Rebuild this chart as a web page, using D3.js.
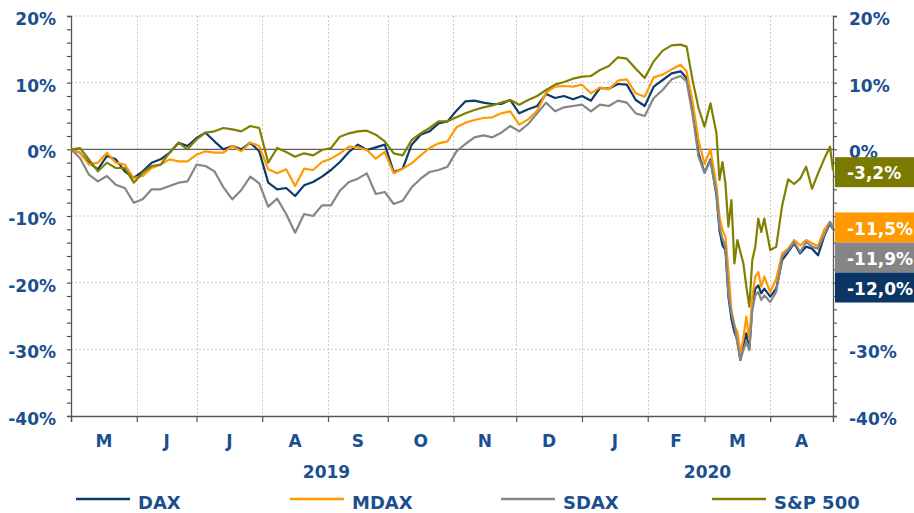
<!DOCTYPE html>
<html><head><meta charset="utf-8">
<script src="https://cdn.jsdelivr.net/npm/d3@7"></script>
<style>
html,body{margin:0;padding:0;background:#fff;}
svg{display:block;font-family:"DejaVu Sans",Verdana,sans-serif;font-weight:bold;}
</style></head>
<body><svg id="chart" width="914" height="513"></svg>
<script>
// trading-day index of each observation (0 = start of May 2019)
const days = [0,3,6,9,12,15,18,21,24,27,30,33,36,39,42,45,48,51,54,57,60,63,66,
69,72,75,78,81,84,87,90,93,96,99,102,105,108,111,114,117,120,123,126,129,
132,135,138,141,144,147,150,153,156,159,162,165,168,171,174,177,180,183,186,189,192,
195,198,201,204,206,208,210,212,214,
216,217,218,219,220,221,222,223,224,225,226,227,228,229,230,231,232,
234,236,238,240,242,244,246,248,250,252,254,255];

const dax = [0,-0.5,-2.0,-3.0,-1.0,-1.5,-3.3,-4.3,-3.3,-2.0,-1.5,-0.5,1.0,0.5,1.7,2.5,1.2,0,0.5,0,1.0,-0.3,-5.0,
-6.0,-5.8,-7.0,-5.4,-4.9,-4.1,-3.1,-1.9,-0.4,0.7,-0.1,0.3,0.7,-3.4,-2.9,0.7,2.2,2.7,3.9,4.2,5.8,
7.2,7.3,7.0,6.8,6.8,7.4,5.4,6.0,6.5,8.3,7.7,8.0,7.5,8.0,7.3,9.2,9.1,9.8,9.7,7.4,6.5,
9.4,10.4,11.4,11.7,10.7,6.2,-0.6,-3.5,-1.5,
-6.9,-12.1,-14.4,-15.1,-22.1,-25.4,-27.4,-28.6,-31.6,-29.4,-27.6,-29.9,-23.4,-20.9,-20.4,-21.6,-20.9,
-22.1,-20.9,-16.6,-15.4,-14.1,-15.6,-14.6,-14.9,-15.9,-13.1,-11.1,-12.0];

const mdax = [0,-0.5,-2.3,-2.0,-0.5,-2.0,-2.3,-4.3,-4.0,-2.8,-2.3,-1.5,-1.8,-1.8,-0.8,-0.3,-0.5,-0.5,0.5,-0.3,1.0,0.5,-3.0,
-3.6,-3.0,-5.5,-2.9,-3.1,-1.9,-1.4,-0.6,0.4,0.3,-0.1,-1.4,-0.4,-3.6,-2.9,-2.1,-0.9,0.2,0.9,1.2,3.3,
4.0,4.4,4.7,4.8,5.4,5.7,3.7,4.5,5.8,8.5,9.4,9.5,9.4,9.7,8.4,9.3,9.0,10.3,10.5,8.4,7.9,
10.8,11.2,12.0,12.7,11.7,7.2,1.4,-2.2,0,
-5.4,-10.1,-12.1,-13.1,-18.1,-24.1,-26.4,-27.4,-30.6,-28.4,-25.1,-28.6,-22.1,-19.1,-18.4,-20.6,-19.1,
-21.4,-19.4,-15.6,-14.9,-13.6,-14.4,-13.6,-14.1,-14.5,-12.1,-10.9,-11.5];

const sdax = [0,-1.3,-3.8,-4.8,-4.0,-5.3,-5.8,-8.0,-7.5,-6.0,-6.0,-5.5,-5.0,-4.8,-2.3,-2.5,-3.3,-5.7,-7.5,-6.1,-4.1,-5.1,-8.6,
-7.4,-9.7,-12.5,-9.7,-10.0,-8.4,-8.4,-6.2,-4.9,-4.4,-3.6,-6.7,-6.4,-8.2,-7.7,-5.7,-4.4,-3.4,-3.1,-2.6,-0.3,
0.8,1.8,2.1,1.8,2.5,3.5,2.7,3.8,5.4,7.0,5.7,6.3,6.5,6.7,5.7,6.7,6.5,7.3,7.0,5.4,5.0,
7.7,8.9,10.5,11.0,10.2,5.2,-1.1,-3.5,-1.7,
-6.6,-11.6,-13.4,-14.6,-21.6,-24.6,-26.4,-29.1,-31.6,-30.1,-28.9,-30.1,-24.1,-21.9,-21.4,-22.6,-21.9,
-22.9,-21.4,-16.1,-15.1,-13.9,-15.4,-13.9,-14.6,-14.9,-12.9,-10.9,-11.9];

const sp500 = [0,0.2,-1.5,-3.3,-2.0,-2.8,-2.8,-5.0,-3.5,-2.5,-2.3,-0.5,1.0,0,1.5,2.5,2.7,3.2,3.0,2.7,3.5,3.2,-2.0,
0.2,-0.4,-1.1,-0.6,-0.9,-0.1,0.2,1.9,2.4,2.7,2.8,2.2,1.2,-0.6,-0.9,1.4,2.4,3.2,4.2,4.2,4.8,
5.4,5.9,6.3,6.6,7.0,7.4,6.7,7.4,8.0,8.9,9.7,10.1,10.6,10.9,11.0,11.9,12.5,13.8,13.6,12.1,10.7,
13.2,14.8,15.6,15.7,15.4,10.4,6.2,3.4,6.9,
2.4,-4.6,-1.9,-5.1,-11.6,-7.6,-17.1,-13.6,-15.4,-17.1,-20.6,-23.6,-16.6,-14.6,-10.4,-12.4,-10.4,
-15.1,-14.6,-8.4,-4.5,-5.2,-4.4,-2.6,-5.9,-3.6,-1.5,0.4,-3.2];

const seriesNames = ["DAX","MDAX","SDAX","S&P 500"];
const seriesColors = ["#0e3a6c","#ff9a00","#868686","#808000"];
const boxColors = ["#0b3565","#ff9900","#858585","#7a7a00"];
const lastLabels = ["-12,0%","-11,5%","-11,9%","-3,2%"];

// month boundaries in trading-day index, month labels, years
const monthBounds = [0,22,42,64,86,106,128,149,171,193,212,234,255];
const monthLabels = ["M","J","J","A","S","O","N","D","J","F","M","A"];
const yearLabels = [{label:"2019", from:0, to:171},{label:"2020", from:171, to:255}];
const yTicks = [20,10,0,-10,-20,-30,-40];
// right-axis labels that are not hidden behind the end-value boxes
const yTicksRight = [20,10,0,-30,-40];

const allSeries = [dax, mdax, sdax, sp500];

const svg = d3.select("#chart");
const L = 71, R = 833, T = 16, B = 416;
const x = d3.scaleLinear().domain([0,255]).range([L,R]);
const y = d3.scaleLinear().domain([-40,20]).range([B,T]);
const labelColor = "#1b4f8f";

// grid
const grid = svg.append("g");
grid.selectAll("line.h").data(yTicks.filter(d=>d!==0 && d!==-40)).enter().append("line")
  .attr("x1",L).attr("x2",R).attr("y1",d=>y(d)).attr("y2",d=>y(d))
  .attr("stroke","#c9c9c9").attr("stroke-width",1).attr("stroke-dasharray","2,2");
grid.selectAll("line.v").data(monthBounds.slice(1,-1)).enter().append("line")
  .attr("x1",d=>Math.round(x(d))+0.5).attr("x2",d=>Math.round(x(d))+0.5).attr("y1",T).attr("y2",B)
  .attr("stroke","#c9c9c9").attr("stroke-width",1).attr("stroke-dasharray","2,2");

// zero line
svg.append("line").attr("x1",L).attr("x2",R).attr("y1",y(0)).attr("y2",y(0))
  .attr("stroke","#606060").attr("stroke-width",1.2);

// axes
const minorTicks = d3.range(-40,21,2);
const leftAxis = d3.axisLeft(y).tickValues(minorTicks).tickSize(4).tickFormat("");
const rightAxis = d3.axisRight(y).tickValues(minorTicks).tickSize(4).tickFormat("");
const gl = svg.append("g").attr("transform",`translate(${L},0)`).call(leftAxis);
const gr = svg.append("g").attr("transform",`translate(${R},0)`).call(rightAxis);
[gl,gr].forEach(g=>{g.select(".domain").attr("stroke","#555").attr("stroke-width",1.3);
  g.selectAll(".tick line").attr("stroke","#555").attr("stroke-width",1.2);});

const bottomAxis = d3.axisBottom(x).tickValues(monthBounds).tickSize(6).tickFormat("");
const gb = svg.append("g").attr("transform",`translate(0,${B})`).call(bottomAxis);
gb.select(".domain").attr("stroke","#555").attr("stroke-width",1.3);
gb.selectAll(".tick line").attr("stroke","#555").attr("stroke-width",1.2);

// y labels
const fmt = d => d + "%";
svg.append("g").selectAll("text").data(yTicks).enter().append("text")
  .attr("x",56).attr("y",d=>y(d)+3).attr("text-anchor","end").attr("dominant-baseline","central")
  .attr("font-size",17).attr("fill",labelColor).text(fmt);
svg.append("g").selectAll("text").data(yTicksRight).enter().append("text")
  .attr("x",849).attr("y",d=>y(d)+3).attr("text-anchor","start").attr("dominant-baseline","central")
  .attr("font-size",17).attr("fill",labelColor).text(fmt);

// month labels
svg.append("g").selectAll("text").data(monthLabels).enter().append("text")
  .attr("x",(d,i)=>x((monthBounds[i]+monthBounds[i+1])/2)).attr("y",441)
  .attr("text-anchor","middle").attr("dominant-baseline","central")
  .attr("font-size",17).attr("fill",labelColor).text(d=>d);
svg.append("g").selectAll("text").data(yearLabels).enter().append("text")
  .attr("x",d=>x((d.from+d.to)/2)).attr("y",472)
  .attr("text-anchor","middle").attr("dominant-baseline","central")
  .attr("font-size",17).attr("fill",labelColor).text(d=>d.label);

// lines
const line = d3.line().x((d,i)=>x(days[i])).y(d=>y(d));
allSeries.forEach((s,i)=>{
  svg.append("path").datum(s).attr("d",line).attr("fill","none")
    .attr("stroke",seriesColors[i]).attr("stroke-width",2.2).attr("stroke-linejoin","round");
});

// end-value boxes, stacked to avoid overlap
const order = [3,1,2,0];
let prevBottom = -Infinity;
const boxH = 30;
order.forEach(i=>{
  const v = allSeries[i][allSeries[i].length-1];
  let cy = y(v) + 1.5;
  let top = Math.max(cy - boxH/2, prevBottom);
  prevBottom = top + boxH;
  svg.append("rect").attr("x",835).attr("y",top).attr("width",80).attr("height",boxH)
    .attr("fill",boxColors[i]);
  svg.append("text").attr("x",847).attr("y",top+boxH/2+1).attr("dominant-baseline","central")
    .attr("font-size",17).attr("fill","#fff").text(lastLabels[i]);
});

// legend
const legendX = [76,290,501,712];
seriesNames.forEach((n,i)=>{
  svg.append("line").attr("x1",legendX[i]).attr("x2",legendX[i]+54).attr("y1",499).attr("y2",499)
    .attr("stroke",seriesColors[i]).attr("stroke-width",2.5);
  svg.append("text").attr("x",legendX[i]+62).attr("y",502).attr("dominant-baseline","central")
    .attr("font-size",18).attr("fill",labelColor).text(n);
});
</script></body></html>
